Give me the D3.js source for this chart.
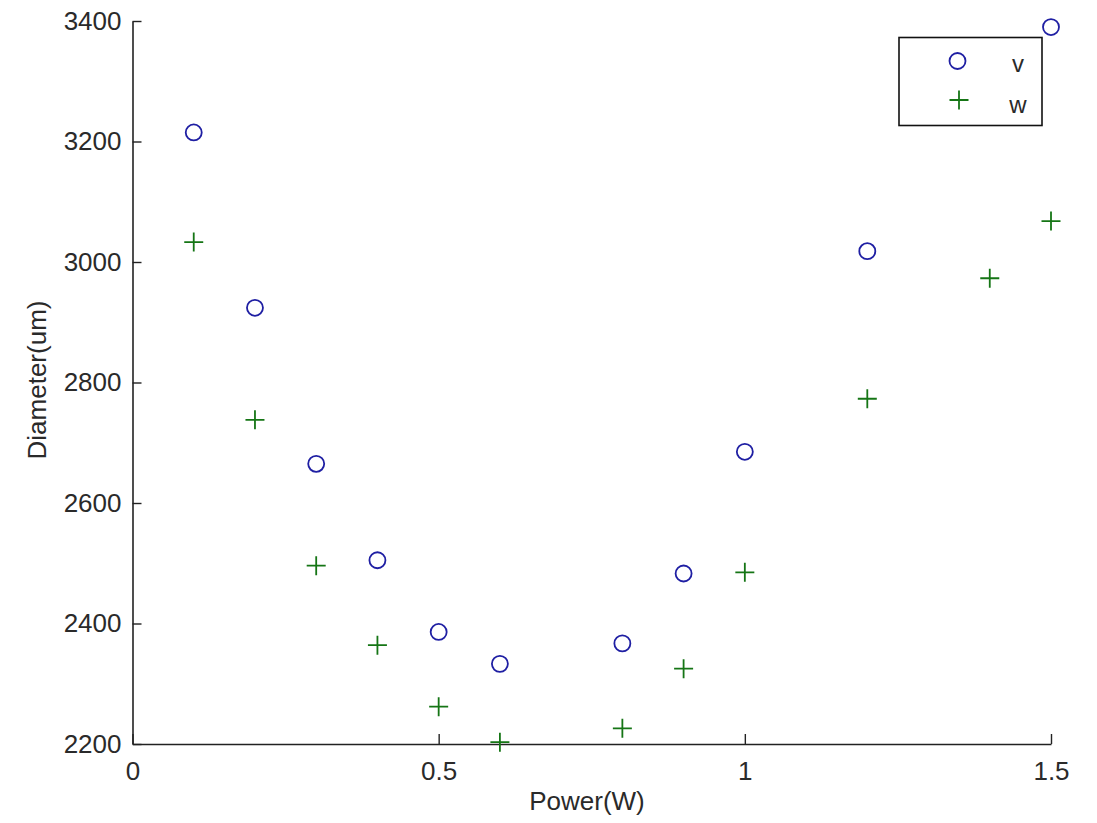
<!DOCTYPE html>
<html>
<head>
<meta charset="utf-8">
<script src="https://cdn.jsdelivr.net/npm/d3@7"></script>
<style>
	body{margin:0;background:#fff;}
	text{font-family:"Liberation Sans Narrow","Arial Narrow","Liberation Sans",Arial,sans-serif;fill:#2a2a2a;}
</style>
</head>
<body>
<div id="chart"></div>
<script>

// power (W) for each series
var powerV=[0.1,0.2,0.3,0.4,0.5,0.6,0.8,0.9,1.0,1.2,1.5],
	powerW=[0.1,0.2,0.3,0.4,0.5,0.6,0.8,0.9,1.0,1.2,1.4,1.5];

// diameter (um)
var diamV=[3215,2924,2665,2505,2386,2333,2367,2483,2685,3018,3390],
	diamW=[3033,2738,2496,2364,2262,2203,2226,2325,2485,2773,2973,3068];

var xTicks=[0,0.5,1,1.5],
	yTicks=[2200,2400,2600,2800,3000,3200,3400];

var seriesNames=["v","w"];

var WIDTH=1097,
	HEIGHT=823;

var xscale=d3.scaleLinear().domain([0,1.5]).range([132.5,1051]),
	yscale=d3.scaleLinear().domain([2200,3400]).range([744,21]);

var svg=d3.select("#chart")
			.append("svg")
				.attr("width",WIDTH)
				.attr("height",HEIGHT);

var xaxis=svg.append("g")
			.attr("transform","translate(0,"+yscale(2200)+")")
			.call(d3.axisBottom(xscale)
				.tickValues(xTicks)
				.tickSizeInner(-10)
				.tickSizeOuter(0)
				.tickPadding(18)
				.tickFormat(d3.format("")));

var yaxis=svg.append("g")
			.attr("transform","translate("+xscale(0)+",0)")
			.call(d3.axisLeft(yscale)
				.tickValues(yTicks)
				.tickSizeInner(-9)
				.tickSizeOuter(0)
				.tickPadding(11)
				.tickFormat(d3.format("d")));

[xaxis,yaxis].forEach(function(a){
	a.select(".domain").attr("stroke","#222").attr("stroke-width",1.6);
	a.selectAll(".tick line").attr("stroke","#222").attr("stroke-width",1.4);
	a.selectAll(".tick text")
		.attr("fill","#2a2a2a")
		.style("font-size","26px")
		.style("font-family",null);
});

svg.append("text")
	.attr("x",587)
	.attr("y",810)
	.attr("text-anchor","middle")
	.style("font-size","26px")
	.text("Power(W)");

svg.append("text")
	.attr("transform","translate(46,380)rotate(-90)")
	.attr("text-anchor","middle")
	.style("font-size","26px")
	.text("Diameter(um)");

var plus="M-9.5,0H9.5M0,-9.5V9.5";

var vData=powerV.map(function(p,i){return {x:p,y:diamV[i]};}),
	wData=powerW.map(function(p,i){return {x:p,y:diamW[i]};});

svg.append("g")
	.selectAll("circle")
	.data(vData)
	.enter()
		.append("circle")
			.attr("cx",function(d){return xscale(d.x);})
			.attr("cy",function(d){return yscale(d.y);})
			.attr("r",8)
			.attr("fill","none")
			.attr("stroke","#1f1fa3")
			.attr("stroke-width",1.8);

svg.append("g")
	.selectAll("path")
	.data(wData)
	.enter()
		.append("path")
			.attr("d",plus)
			.attr("transform",function(d){
				return "translate("+xscale(d.x)+","+yscale(d.y)+")";
			})
			.attr("fill","none")
			.attr("stroke","#157515")
			.attr("stroke-width",1.8);

// legend
var legend=svg.append("g");

legend.append("rect")
	.attr("x",899)
	.attr("y",37.5)
	.attr("width",143)
	.attr("height",88)
	.attr("fill","#fff")
	.attr("stroke","#111")
	.attr("stroke-width",1.6);

legend.append("circle")
	.attr("cx",957.5)
	.attr("cy",61)
	.attr("r",8)
	.attr("fill","none")
	.attr("stroke","#1f1fa3")
	.attr("stroke-width",1.8);

legend.append("path")
	.attr("d",plus)
	.attr("transform","translate(959,100)")
	.attr("fill","none")
	.attr("stroke","#157515")
	.attr("stroke-width",1.8);

legend.selectAll("text.lab")
	.data(seriesNames)
	.enter()
		.append("text")
			.attr("class","lab")
			.attr("x",1018)
			.attr("y",function(d,i){return 72+i*41;})
			.attr("text-anchor","middle")
			.style("font-size","24px")
			.text(function(d){return d;});

</script>
</body>
</html>
